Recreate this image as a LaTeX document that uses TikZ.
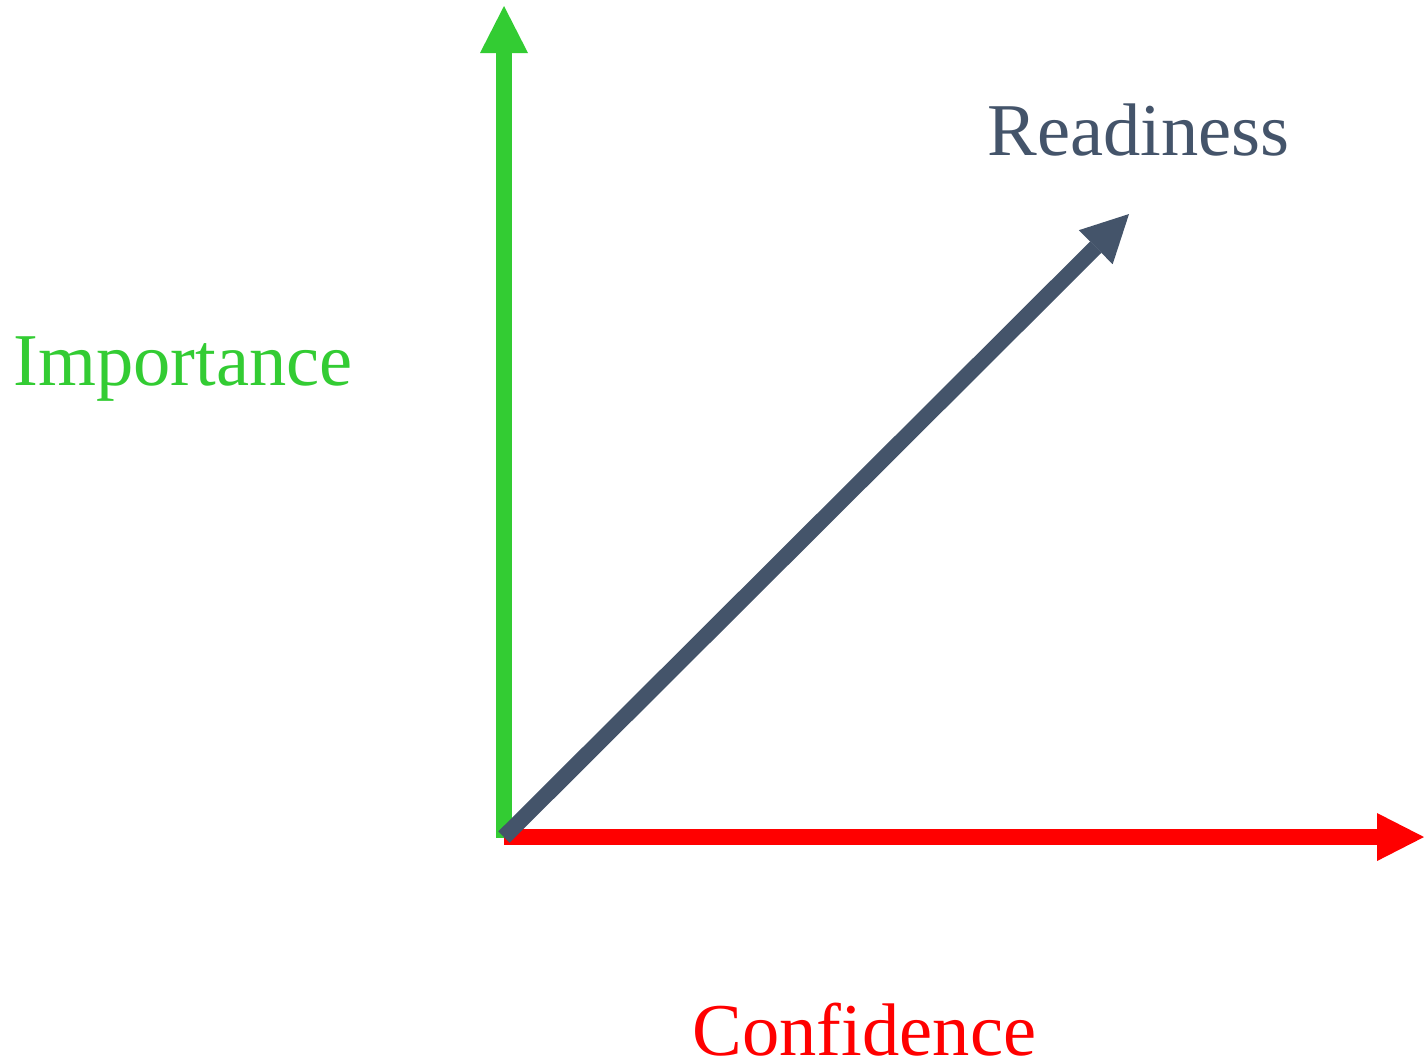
\documentclass[tikz,border=0pt]{standalone}
\usepackage{fontspec}
\setmainfont{Liberation Serif}
\usetikzlibrary{arrows.meta}

\definecolor{impgreen}{RGB}{51,204,51}
\definecolor{readgrey}{RGB}{68,84,106}
\tikzset{
  axis/.style={line width=0.16cm,-{Triangle[width=0.48cm,length=0.47cm,line width=0pt]}},
  axislabel/.style={anchor=base west,inner sep=0pt,font=\fontsize{21.2}{25}\selectfont}
}

\begin{document}
\begin{tikzpicture}
\useasboundingbox (0,0) rectangle (14.24,-10.58);

% Origin and axis tips
\coordinate (o) at (5.04,-8.37);
\coordinate (imp) at (5.04,-0.06);
\coordinate (conf) at (14.24,-8.37);
\coordinate (read) at (11.29,-2.14);

% Axes
\draw[axis,impgreen] ([yshift=-0.01cm]o) -- (imp);
\draw[axis,red] (o) -- (conf);
\draw[axis,readgrey] (o) -- (read);

% Labels
\node[axislabel,impgreen] (implabel) at (0.13,-3.85) {Importance};
\node[axislabel,red] (conflabel) at (6.92,-10.55) {Confidence};
\node[axislabel,readgrey] (readlabel) at (9.87,-1.55) {Readiness};

\end{tikzpicture}
\end{document}
